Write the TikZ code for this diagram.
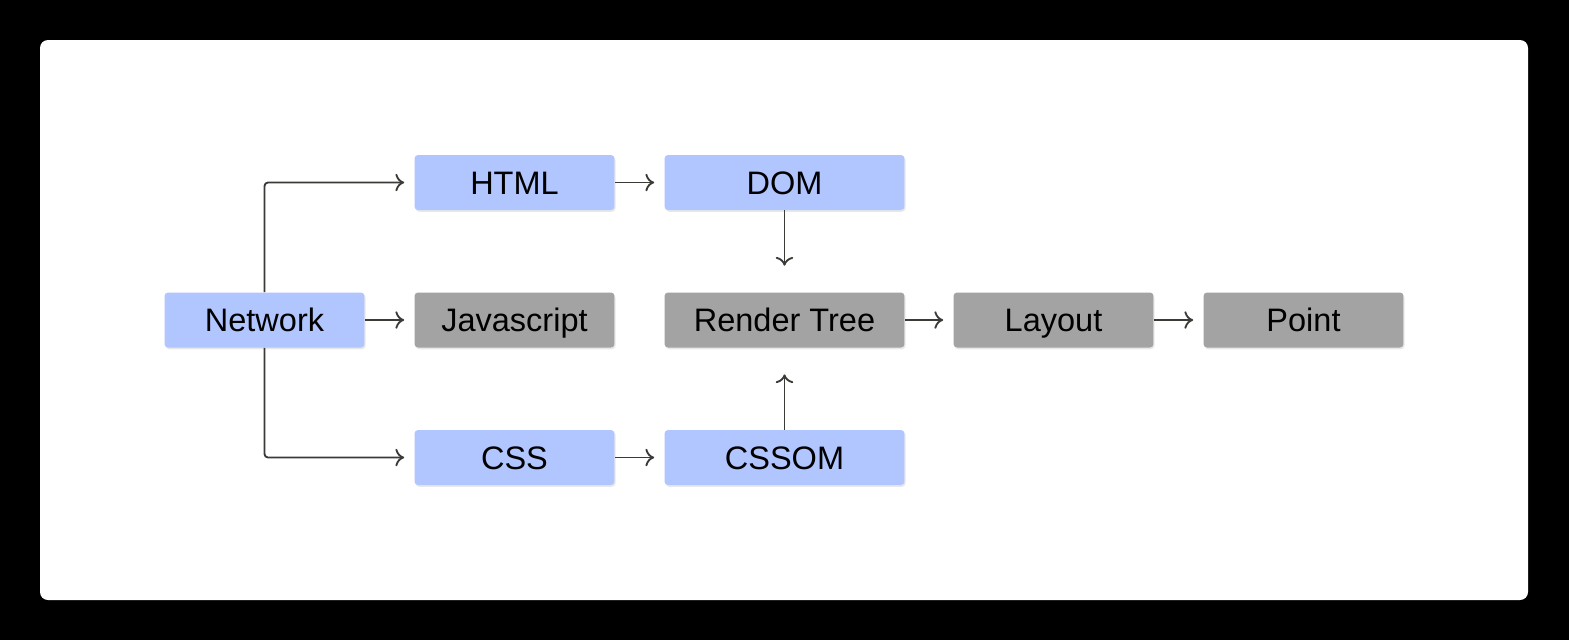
\documentclass[tikz,border=0pt]{standalone}
\usepackage{fontspec}
\setmainfont{Liberation Sans}
\usetikzlibrary{arrows.meta,shadows}

\definecolor{boxblue}{HTML}{B1C5FF}
\definecolor{boxgrey}{HTML}{A3A3A3}
\definecolor{linegrey}{HTML}{3A3A36}

\begin{document}
\begin{tikzpicture}[x=0.02cm,y=-0.02cm,
  box/.style={rounded corners=2pt, minimum width=4cm, minimum height=1.1cm,
    inner sep=0pt, text height=13.2pt, text depth=0pt,
    font=\fontsize{18.5}{22}\selectfont,
    drop shadow={opacity=0.18, shadow xshift=0.6pt, shadow yshift=-1pt}},
  bluebox/.style={box, fill=boxblue},
  greybox/.style={box, fill=boxgrey},
  wide/.style={minimum width=4.8cm},
  link/.style={draw=linegrey, line width=1.05pt, rounded corners=2pt,
    -{To[length=5pt,width=10pt,line width=1.05pt]}, shorten >=0.2cm},
  longlink/.style={link, shorten >=0.53cm}]
% backdrop
\fill[black] (0,0) rectangle (1569,640);
\fill[white, rounded corners=0.16cm] (40,40) rectangle (1528,600);
% boxes
\node[bluebox] (network) at (264.5,320) {Network};
\node[bluebox] (html) at (514.5,182.5) {HTML};
\node[greybox] (js) at (514.5,320) {Javascript};
\node[bluebox] (css) at (514.5,457.5) {CSS};
\node[bluebox, wide] (dom) at (784.5,182.5) {DOM};
\node[greybox, wide] (render) at (784.5,320) {Render Tree};
\node[bluebox, wide] (cssom) at (784.5,457.5) {CSSOM};
\node[greybox] (layout) at (1053.5,320) {Layout};
\node[greybox] (point) at (1303.5,320) {Point};
% connectors
\draw[link] (network.north) |- (html.west);
\draw[link] (network.south) |- (css.west);
\draw[link] (network) -- (js);
\draw[link] (html) -- (dom);
\draw[link] (css) -- (cssom);
\draw[longlink] (dom) -- (render);
\draw[longlink] (cssom) -- (render);
\draw[link] (render) -- (layout);
\draw[link] (layout) -- (point);
\end{tikzpicture}
\end{document}
